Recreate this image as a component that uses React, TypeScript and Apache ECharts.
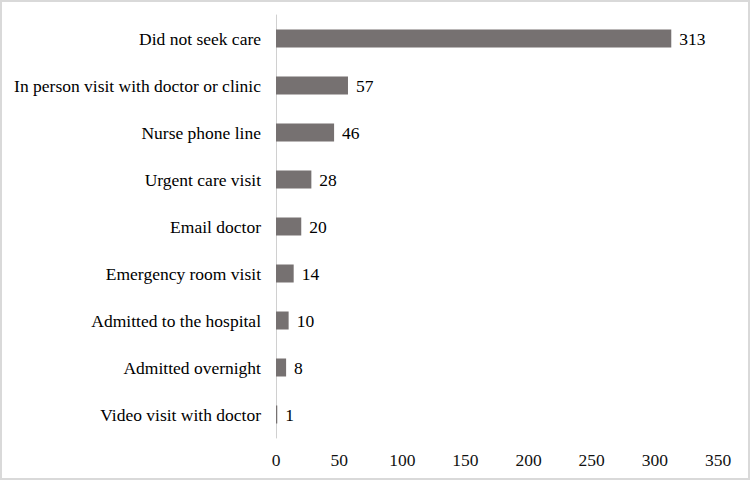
import React, { useEffect, useRef } from "react";
import * as echarts from "echarts";

const categories = [
  "Did not seek care",
  "In person visit with doctor or clinic",
  "Nurse phone line",
  "Urgent care visit",
  "Email doctor",
  "Emergency room visit",
  "Admitted to the hospital",
  "Admitted overnight",
  "Video visit with doctor",
];
const values = [313, 57, 46, 28, 20, 14, 10, 8, 1];

const FONT = "Liberation Serif";
const FS = 17.5;

export default function App() {
  const ref = useRef<HTMLDivElement>(null);
  useEffect(() => {
    if (!ref.current) return;
    const chart = echarts.init(ref.current, null, { renderer: "svg" });
    chart.setOption({
      animation: false,
      backgroundColor: "transparent",
      grid: { left: 276, right: 32, top: 15, bottom: 42, containLabel: false },
      xAxis: {
        type: "value",
        min: 0,
        max: 350,
        interval: 50,
        axisLine: { show: false },
        axisTick: { show: false },
        splitLine: { show: false },
        axisLabel: { color: "#111", fontSize: FS, fontFamily: FONT, margin: 13 },
      },
      yAxis: {
        type: "category",
        data: categories,
        inverse: true,
        axisLine: { show: true, lineStyle: { color: "#d0d0d0", width: 1 } },
        axisTick: { show: false },
        axisLabel: { color: "#000", fontSize: FS, fontFamily: FONT, margin: 15 },
      },
      series: [
        {
          type: "bar",
          data: values,
          barWidth: 18,
          itemStyle: { color: "#767171" },
          label: {
            show: true,
            position: "right",
            distance: 8,
            color: "#000",
            fontSize: FS,
            fontFamily: FONT,
          },
        },
      ],
    });
    return () => chart.dispose();
  }, []);
  return (
    <div
      style={{
        position: "absolute",
        left: 0,
        top: 0,
        width: 750,
        height: 480,
        background: "#fff",
      }}
    >
      <div ref={ref} style={{ position: "absolute", left: 0, top: 0, width: 750, height: 480 }} />
      <div
        style={{
          position: "absolute",
          left: 0,
          top: 0,
          width: 750,
          height: 480,
          boxSizing: "border-box",
          border: "2px solid #d9d9d9",
          pointerEvents: "none",
        }}
      />
    </div>
  );
}
